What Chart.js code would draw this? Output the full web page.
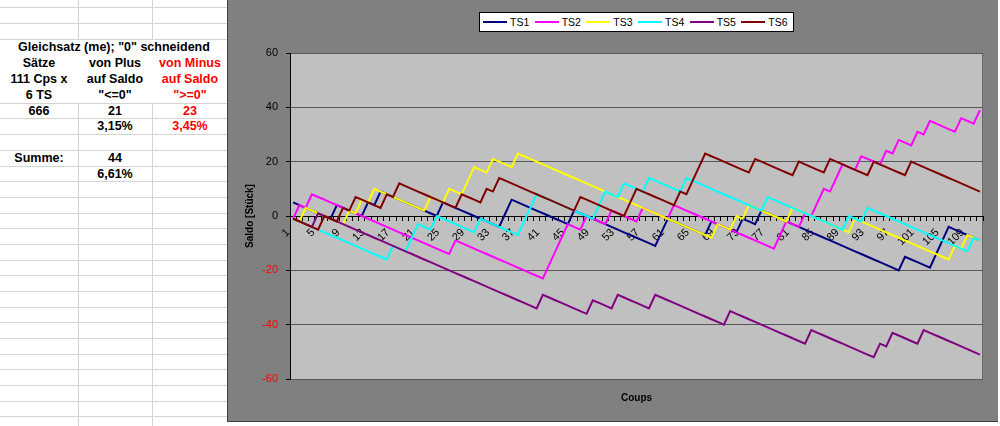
<!DOCTYPE html>
<html>
<head>
<meta charset="utf-8">
<title>Gleichsatz - Saldo je TS</title>
<script src="https://cdn.jsdelivr.net/npm/chart.js@4.4.1/dist/chart.umd.min.js"></script>
<style>
  html, body { margin: 0; padding: 0; }
  body { width: 1000px; height: 426px; position: relative; overflow: hidden; background: #fff;
         font-family: 'Liberation Sans', Arial, sans-serif; }
  .hl { position: absolute; left: 0; width: 228px; height: 1px; background: #d4d4d4; }
  .vl { position: absolute; width: 1px; background: #d4d4d4; }
  .cell { position: absolute; height: 16px; line-height: 16px; text-align: center; font-weight: bold;
          font-size: 12.5px; color: #000; white-space: nowrap; }
  .red { color: #ff0000; }
  #chart-box { position: absolute; left: 227px; top: 0; width: 771px; height: 422px; box-sizing: border-box;
               background: #808080; border-left: 1px solid #404040; border-bottom: 1px solid #404040; }
  #legend { position: absolute; left: 479px; top: 12px; width: 315px; height: 20px; box-sizing: border-box;
            background: #fff; border: 1px solid #000; display: flex; align-items: center; padding-left: 3px; }
  .item { width: 52px; display: flex; align-items: center; font-size: 10.5px; color: #000; }
  .swatch { width: 24px; height: 2px; margin-right: 3px; }
</style>
</head>
<body>
<div id="sheet"></div>
<div id="chart-box"><canvas id="saldoChart" width="770" height="421"></canvas></div>
<div id="legend"></div>

<script>
// Coups 1..111, one saldo value per coup and Transversale simple
const coups = Array.from({ length: 111 }, (_, i) => i + 1);
const seriesNames = ['TS1', 'TS2', 'TS3', 'TS4', 'TS5', 'TS6'];
const seriesColors = ['#000080', '#ff00ff', '#ffff00', '#00ffff', '#800080', '#800000'];

const ts1 = [5,4,3,2,1,0,-1,4,3,2, 1,0,5,4,9,8,7,6,5,4, 3,2,1,0,5,4,3,2,1,0,
  -1,-2,-3,-4,1,6,5,4,3,2, 1,0,-1,-2,-3,2,1,0,-1,-2, -3,-4,-5,-6,-7,-8,-9,-10,-11,-6,
  -1,-2,-3,-4,-5,-6,-7,-2,-3,-4, -5,-6,-1,-2,-3,2,1,0,-1,-2, -3,-4,-5,-6,-7,-8,-9,-10,-11,-12,
  -13,-14,-15,-16,-17,-18,-19,-20,-15,-16, -17,-18,-19,-14,-9,-4,-5,-6,-7,-8, -9];
const ts2 = [-1,4,3,8,7,6,5,4,3,2, 1,0,-1,-2,-3,-4,-5,-6,-7,-8, -9,-10,-11,-12,-13,-14,-9,-10,-11,-12,
  -13,-14,-15,-16,-17,-18,-19,-20,-21,-22, -23,-18,-13,-8,-3,-4,-5,0,-1,-2, -3,2,1,0,-1,-2,3,2,1,0,
  -1,4,3,2,1,0,-1,-2,-3,-4, -5,-6,-7,-8,-9,-10,-11,-12,-7,-2, -3,-4,1,0,5,10,9,14,19,18,
  17,22,21,20,19,24,23,28,27,26, 31,30,35,34,33,32,31,36,35,34, 39];
const ts3 = [-1,-2,3,2,1,0,-1,-2,-3,2, 1,6,5,10,9,8,7,6,5,4, 3,2,7,6,5,10,9,8,13,18,
  17,16,21,20,19,18,23,22,21,20, 19,18,17,16,15,14,13,12,11,10, 9,8,7,6,5,4,3,2,1,0,
  -1,-2,-3,-4,-5,-6,-7,-8,-3,-4, -5,0,-1,4,3,2,1,0,-1,-2, 3,2,1,0,-1,-2,-3,-4,-5,-6,
  -1,-2,-3,-4,-5,-6,-7,-8,-9,-10, -11,-12,-13,-14,-15,-16,-11,-12,-7,-8, -9];
const ts4 = [-1,-2,-3,-4,-5,-6,-7,-8,-9,-10, -11,-12,-13,-14,-15,-16,-11,-12,-13,-8, -3,-4,-5,0,-1,-2,-3,-4,-5,-6,
  -1,-2,-3,-4,-5,-6,-7,-2,3,8, 7,6,5,4,3,2,1,0,-1,4, 9,8,7,12,11,10,9,14,13,12,
  11,10,9,14,13,12,11,10,9,8, 7,6,5,4,3,2,7,6,5,4, 3,2,1,0,-1,-2,-3,-4,-5,0,
  -1,-2,3,2,1,0,-1,-2,-3,-4, -5,-6,-7,-8,-9,-10,-11,-12,-13,-8, -9];
const ts5 = [-1,-2,-3,-4,1,0,-1,-2,-3,-4, -5,-6,-7,-8,-9,-10,-11,-12,-13,-14, -15,-16,-17,-18,-19,-20,-21,-22,-23,-24,
  -25,-26,-27,-28,-29,-30,-31,-32,-33,-34, -29,-30,-31,-32,-33,-34,-35,-36,-31,-32, -33,-34,-29,-30,-31,-32,-33,-34,-29,-30,
  -31,-32,-33,-34,-35,-36,-37,-38,-39,-40, -35,-36,-37,-38,-39,-40,-41,-42,-43,-44, -45,-46,-47,-42,-43,-44,-45,-46,-47,-48,
  -49,-50,-51,-52,-47,-48,-43,-44,-45,-46, -47,-42,-43,-44,-45,-46,-47,-48,-49,-50, -51];
const ts6 = [-1,-2,-3,-4,-5,0,-1,-2,3,2, 7,6,5,4,3,8,7,12,11,10, 9,8,7,6,5,4,3,8,7,6,
  5,10,9,14,13,12,11,10,9,8, 7,6,5,4,3,2,7,6,5,4, 3,2,1,0,5,10,9,8,7,6,
  5,4,9,8,13,18,23,22,21,20, 19,18,17,16,21,20,19,18,17,16, 15,20,19,18,17,16,21,20,19,18,
  17,16,15,20,19,18,17,16,15,20, 19,18,17,16,15,14,13,12,11,10, 9];
const seriesValues = [ts1, ts2, ts3, ts4, ts5, ts6];

const yTicks = [-60, -40, -20, 0, 20, 40, 60];

// Spreadsheet cells on the left
const sheetCells = [
  { x: 0, w: 228, y: 39, text: 'Gleichsatz (me); "0" schneidend' },
  { x: 0, w: 78, y: 55, text: 'Sätze' },
  { x: 0, w: 78, y: 71, text: '111 Cps x' },
  { x: 0, w: 78, y: 87, text: '6 TS' },
  { x: 78, w: 74, y: 55, text: 'von Plus' },
  { x: 78, w: 74, y: 71, text: 'auf Saldo' },
  { x: 78, w: 74, y: 87, text: '"<=0"' },
  { x: 152, w: 76, y: 55, text: 'von Minus', red: true },
  { x: 152, w: 76, y: 71, text: 'auf Saldo', red: true },
  { x: 152, w: 76, y: 87, text: '">=0"', red: true },
  { x: 0, w: 78, y: 103, text: '666' },
  { x: 78, w: 74, y: 103, text: '21' },
  { x: 152, w: 76, y: 103, text: '23', red: true },
  { x: 78, w: 74, y: 118, text: '3,15%' },
  { x: 152, w: 76, y: 118, text: '3,45%', red: true },
  { x: 0, w: 78, y: 150, text: 'Summe:' },
  { x: 78, w: 74, y: 150, text: '44' },
  { x: 78, w: 74, y: 166, text: '6,61%' }
];

function buildSheet() {
  const sheet = document.getElementById('sheet');
  const rowLines = [7, 23, 39, 103, 118, 134, 150, 166, 181, 197, 213, 228, 244, 260, 275, 291, 307, 322, 338, 354, 369, 385, 401, 416];
  rowLines.forEach(y => {
    const d = document.createElement('div');
    d.className = 'hl';
    d.style.top = y + 'px';
    sheet.appendChild(d);
  });
  [78, 152].forEach(x => {
    [[0, 40], [103, 323]].forEach(([top, h]) => {
      const d = document.createElement('div');
      d.className = 'vl';
      d.style.left = x + 'px';
      d.style.top = top + 'px';
      d.style.height = h + 'px';
      sheet.appendChild(d);
    });
  });
  sheetCells.forEach(c => {
    const d = document.createElement('div');
    d.className = 'cell' + (c.red ? ' red' : '');
    d.style.left = c.x + 'px';
    d.style.width = c.w + 'px';
    d.style.top = c.y + 'px';
    d.textContent = c.text;
    sheet.appendChild(d);
  });
}

function buildLegend() {
  const legend = document.getElementById('legend');
  seriesNames.forEach((name, i) => {
    const item = document.createElement('div');
    item.className = 'item';
    item.innerHTML = `<span class="swatch" style="background:${seriesColors[i]}"></span><span>${name}</span>`;
    legend.appendChild(item);
  });
}

// silver plot area like the Excel default
const plotArea = {
  id: 'plotArea',
  beforeDraw(chart) {
    const { ctx, chartArea: a } = chart;
    ctx.save();
    ctx.fillStyle = '#c0c0c0';
    ctx.fillRect(a.left, a.top, a.right - a.left, a.bottom - a.top);
    ctx.strokeStyle = '#6a6a6a';
    ctx.lineWidth = 1;
    ctx.strokeRect(a.left + 0.5, a.top + 0.5, a.right - a.left - 1, a.bottom - a.top);
    ctx.restore();
  }
};

function drawChart() {
  Chart.defaults.font.family = "'Liberation Sans', Arial, sans-serif";
  Chart.defaults.color = '#000';

  const datasets = seriesValues.map((values, i) => ({
    label: seriesNames[i],
    data: values,
    borderColor: seriesColors[i],
    borderWidth: 2,
    pointRadius: 0,
    tension: 0,
    fill: false,
    order: seriesValues.length - i,
    xAxisID: 'x',
    yAxisID: 'y'
  }));

  new Chart(document.getElementById('saldoChart'), {
    type: 'line',
    data: { labels: coups, datasets },
    options: {
      responsive: false,
      animation: false,
      layout: { padding: { top: 53, right: 15, bottom: 0, left: 0 } },
      plugins: { legend: { display: false }, tooltip: { enabled: false } },
      scales: {
        x: {
          type: 'category',
          position: { y: 0 },
          offset: true,
          grid: { display: true, drawOnChartArea: false, tickLength: 4, tickColor: '#000', offset: true },
          border: { display: true, color: '#000', width: 1 },
          ticks: {
            autoSkip: false, maxRotation: 45, minRotation: 45, padding: 6, labelOffset: -5,
            font: { size: 11 }, color: '#000',
            callback: (v, i) => (i % 4 === 0 ? String(coups[i]) : '')
          },
          afterFit: s => { s.paddingLeft = 0; s.paddingRight = 0; }
        },
        x2: {
          type: 'linear',
          position: 'bottom',
          grid: { display: false },
          border: { display: false },
          ticks: { display: false },
          title: { display: true, text: 'Coups', color: '#000', font: { size: 10, weight: 'bold' }, padding: { top: 0, bottom: 17 } },
          afterFit: s => { s.height = 42; }
        },
        y: {
          min: yTicks[0],
          max: yTicks[yTicks.length - 1],
          afterBuildTicks: s => { s.ticks = yTicks.map(v => ({ value: v })); },
          grid: { color: '#585858', tickLength: 4, tickColor: '#000' },
          border: { display: true, color: '#000', width: 1 },
          ticks: {
            padding: 8, font: { size: 11 },
            color: c => (c.tick && c.tick.value < 0 ? '#ff0000' : '#000')
          },
          title: { display: true, text: 'Saldo [Stück]', color: '#000', font: { size: 10, weight: 'bold' }, padding: { top: 16 } },
          afterFit: s => { s.width = 62; }
        }
      }
    },
    plugins: [plotArea]
  });
}

buildSheet();
buildLegend();
drawChart();
</script>
</body>
</html>
